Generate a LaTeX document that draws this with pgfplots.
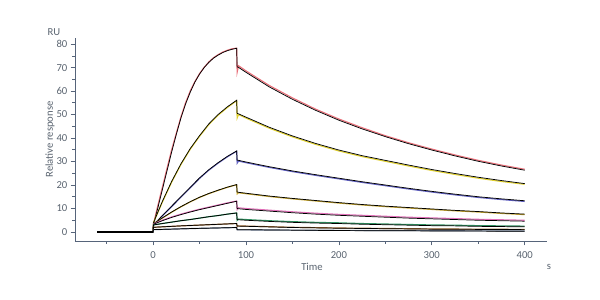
\documentclass[border=0pt]{standalone}
\usepackage{pgfplots}
\usepackage{pgfplotstable}
\pgfplotsset{compat=1.18}
\usepackage{fontspec}
\setmainfont{Carlito}
\definecolor{axiscol}{HTML}{56647A}
\definecolor{labcol}{HTML}{5A6470}
\definecolor{cA}{HTML}{E8707A}
\definecolor{cB}{HTML}{E0D030}
\definecolor{cC}{HTML}{6060C0}
\definecolor{cD}{HTML}{C8A830}
\definecolor{cE}{HTML}{E070B8}
\definecolor{cF}{HTML}{309060}
\definecolor{cG}{HTML}{A06830}
\definecolor{cH}{HTML}{607088}

\pgfplotstableread{
t f d
-60 0 0
0 0 0
0.5 3 3.5
5 10 11
10 18 19
15 26 27
20 34 35
25 41.5 42
30 48.5 49
35 54.5 55
40 59.5 60
45 63.8 64
50 67.2 67.4
55 70 70.1
60 72.2 72.4
65 74 74.2
70 75.3 75.5
75 76.4 76.6
80 77.2 77.4
85 77.8 78
90 78.2 78.3
90.5 70.3 68
92 70.1 70.8
100 68.0 68.6
125 61.8 62.4
150 56.5 57.1
175 51.8 52.3
200 47.6 48.1
225 43.9 44.4
250 40.6 41.0
275 37.6 38.0
300 34.9 35.3
325 32.4 32.8
350 30.1 30.5
375 28.1 28.5
400 26.3 26.7
}\cvA

\pgfplotstableread{
t f d
-60 0 0
0 0 0
0.5 4 4
10 13 12.7
20 21.5 21.2
30 29 28.7
40 35.5 35.2
50 41 40.7
60 46 45.7
70 50 49.7
80 53.3 53.0
90 56.1 55.9
90.5 50.5 48.5
92 50.3 50
100 48.9 48.5
125 44.6 44.2
150 40.9 40.5
175 37.7 37.3
200 34.9 34.5
225 32.5 32.1
250 30.5 30.1
275 28.5 28.1
300 26.6 26.2
325 24.9 24.5
350 23.3 22.9
375 21.9 21.5
400 20.6 20.3
}\cvB

\pgfplotstableread{
t f d
-60 0 0
0 0 0
0.5 3 3
10 7 6.8
20 11 10.8
30 15 14.8
40 19 18.8
50 23 22.8
60 26.5 26.3
70 29.5 29.3
80 32.2 32.0
90 34.5 34.4
90.5 30.6 29.3
92 30.5 30.2
100 29.8 29.5
125 27.8 27.5
150 26.0 25.7
175 24.4 24.1
200 22.9 22.6
225 21.4 21.1
250 20.0 19.7
275 18.6 18.3
300 17.3 17.0
325 16.1 15.8
350 15.0 14.7
375 14.1 13.8
400 13.3 13.0
}\cvC

\pgfplotstableread{
t f d
-60 0 0
0 0 0
0.5 3.5 3.5
10 6 5.9
20 8.5 8.4
30 10.8 10.7
40 12.9 12.8
50 14.8 14.7
60 16.4 16.3
70 17.8 17.7
80 19.1 19.0
90 20.2 20.1
90.5 17.0 16.2
92 16.9 16.7
100 16.5 16.3
125 15.3 15.1
150 14.3 14.1
175 13.4 13.2
200 12.5 12.3
225 11.7 11.5
250 11.0 10.8
275 10.4 10.2
300 9.8 9.6
325 9.2 9.0
350 8.7 8.5
375 8.1 7.9
400 7.6 7.4
}\cvD

\pgfplotstableread{
t f d
-60 0 0
0 0 0
0.5 3.3 3.4
10 4.8 5.0
20 6.2 6.4
30 7.4 7.6
40 8.5 8.7
50 9.5 9.7
60 10.4 10.6
70 11.3 11.5
80 12.2 12.4
90 13.1 13.2
90.5 10.0 9.5
92 9.9 10.3
100 9.6 10.0
125 8.9 9.3
150 8.2 8.6
175 7.6 8.0
200 7.1 7.5
225 6.7 7.1
250 6.3 6.7
275 5.9 6.3
300 5.6 6.0
325 5.3 5.7
350 5.0 5.4
375 4.8 5.2
400 4.6 5.0
}\cvE

\pgfplotstableread{
t f d
-60 0 0
0 0 0
0.5 3 3
10 3.6 3.6
20 4.2 4.2
30 4.8 4.8
40 5.3 5.3
50 5.9 5.9
60 6.5 6.5
70 7.0 7.0
80 7.6 7.6
90 8.1 8.1
90.5 5.3 4.9
92 5.2 5.5
100 5.0 5.3
125 4.5 4.8
150 4.1 4.4
175 3.8 4.1
200 3.6 3.9
225 3.3 3.6
250 3.1 3.4
275 2.9 3.2
300 2.7 3.0
325 2.6 2.9
350 2.4 2.7
375 2.3 2.6
400 2.2 2.5
}\cvF

\pgfplotstableread{
t f d
-60 0 0
0 0 0
0.5 2 2
30 2.6 2.6
60 3.1 3.1
90 3.6 3.6
90.5 2.5 2.3
92 2.5 2.6
150 1.9 2.0
200 1.6 1.7
250 1.4 1.5
300 1.2 1.3
350 1.1 1.2
400 1.0 1.1
}\cvG

\pgfplotstableread{
t f d
-60 0 0
0 0 0
0.5 1 1
45 1.5 1.5
90 1.9 1.9
90.5 1.0 0.9
200 0.6 0.7
300 0.45 0.55
400 0.3 0.4
}\cvH

\begin{document}
\begin{tikzpicture}
\path[use as bounding box] (-56.25pt,-44.25pt) rectangle (393.75pt,180.75pt);
\begin{axis}[
  scale only axis, width=354pt, height=152.25pt,
  xmin=-84, xmax=424, ymin=-3.84, ymax=82.6,
  axis x line*=bottom, axis y line*=left,
  axis line style={draw=axiscol, line width=0.6pt},
  xtick={0,100,200,300,400}, minor xtick={-50,50,150,250,350},
  ytick={0,10,20,30,40,50,60,70,80}, minor ytick={5,15,25,35,45,55,65,75},
  tick align=outside,
  major tick length=3.2pt, minor tick length=2pt,
  every tick/.style={draw=axiscol, line width=0.5pt},
  tick label style={font=\fontsize{8}{9}\selectfont, text=labcol},
  /pgf/number format/assume math mode=true,
  yticklabel style={xshift=1pt},
  xticklabel style={yshift=-1pt},
  dcol/.style={line width=0.85pt},
  fitl/.style={black, line width=0.55pt},
]
\addplot[cA, dcol] table[x=t,y=d]{\cvA};
\addplot[fitl] table[x=t,y=f]{\cvA};
\addplot[cB, dcol] table[x=t,y=d]{\cvB};
\addplot[fitl] table[x=t,y=f]{\cvB};
\addplot[cC, dcol] table[x=t,y=d]{\cvC};
\addplot[fitl] table[x=t,y=f]{\cvC};
\addplot[cD, dcol] table[x=t,y=d]{\cvD};
\addplot[fitl] table[x=t,y=f]{\cvD};
\addplot[cE, dcol] table[x=t,y=d]{\cvE};
\addplot[fitl] table[x=t,y=f]{\cvE};
\addplot[cF, dcol] table[x=t,y=d]{\cvF};
\addplot[fitl] table[x=t,y=f]{\cvF};
\addplot[cG, dcol] table[x=t,y=d]{\cvG};
\addplot[fitl] table[x=t,y=f]{\cvG};
\addplot[cH, dcol] table[x=t,y=d]{\cvH};
\addplot[fitl] table[x=t,y=f]{\cvH};
\addplot[black, line width=1.2pt] coordinates {(-60,0) (0,0)};
\end{axis}
\node[rotate=90, text=labcol, font=\fontsize{8}{9}\selectfont] at (-18.75pt,76.1pt) {Relative response};
\node[text=labcol, font=\fontsize{8}{9}\selectfont] at (-15.75pt,156.75pt) {RU};
\node[text=labcol, font=\fontsize{8}{9}\selectfont] at (177.75pt,-19.5pt) {Time};
\node[text=labcol, font=\fontsize{8}{9}\selectfont] at (355.5pt,-19.5pt) {s};
\end{tikzpicture}
\end{document}
